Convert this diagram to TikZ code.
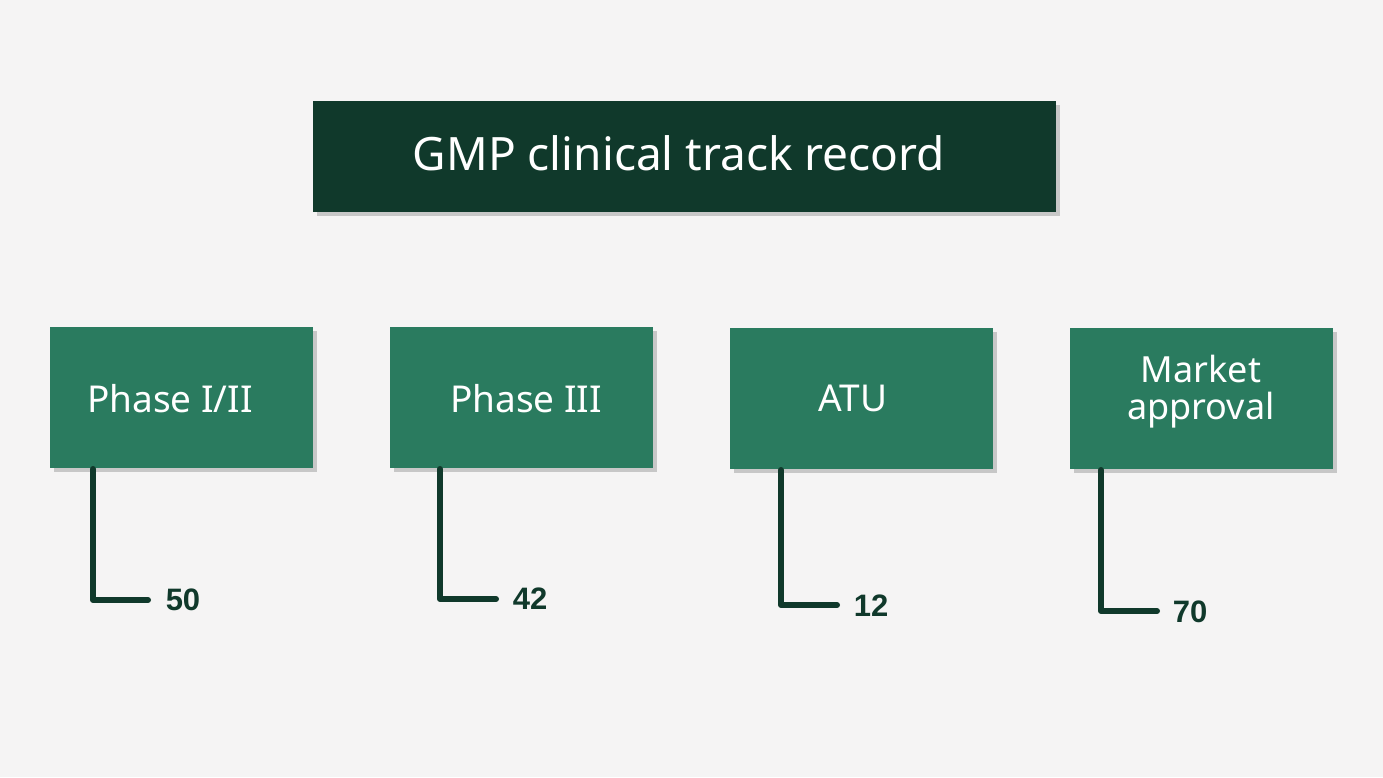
\documentclass[tikz,border=0pt]{standalone}
\usepackage{fontspec}
\setmainfont{Noto Sans}
\newfontfamily\numfont{Liberation Sans}
\begin{document}
\begin{tikzpicture}[x=1pt,y=-1pt,
  shad/.style={fill=black!22,draw=none},
  boxtext/.style={text=white,font=\fontsize{37}{40}\selectfont,inner sep=0pt,align=center},
  lead/.style={draw=titlegreen,line width=6pt,line cap=round,line join=round},
  num/.style={text=titlegreen,font=\numfont\bfseries\fontsize{31}{33}\selectfont,inner sep=0pt}]
\definecolor{bg}{HTML}{F5F4F4}
\definecolor{titlegreen}{HTML}{10392B}
\definecolor{boxgreen}{HTML}{2A7B5F}
\useasboundingbox[fill=bg] (0,0) rectangle (1383,777);
% title
\fill[shad] (317,105) rectangle (1060,216);
\fill[titlegreen] (313,101) rectangle (1056,212);
\node[text=white,font=\fontsize{46}{50}\selectfont] (t) at (679,153) {GMP clinical track record};
% boxes
\foreach \x/\y/\n in {50/327/a,390/327/b,730/328/c,1070/328/d}{
  \fill[shad] (\x+4,\y+4) rectangle (\x+267,\y+145);
  \fill[boxgreen] (\x,\y) rectangle (\x+263,\y+141);
  \coordinate (\n) at (\x,\y);
}
\node[boxtext] (pa) at (170,399) {Phase I/II};
\node[boxtext] (pb) at (526,399) {Phase III};
\node[boxtext] (pc) at (853,398) {ATU};
\node[text=white,font=\fontsize{36}{37}\selectfont,align=center,inner sep=0pt] (pd) at (1201,392) {Market\\approval};
% leaders
\coordinate (la) at (93,469); \coordinate (ea) at (148,600);
\coordinate (lb) at (440,469); \coordinate (eb) at (496,599);
\coordinate (lc) at (781,470); \coordinate (ec) at (837,605);
\coordinate (ld) at (1101,470); \coordinate (ed) at (1157,611);
\draw[lead] (la) |- (ea);
\draw[lead] (lb) |- (eb);
\draw[lead] (lc) |- (ec);
\draw[lead] (ld) |- (ed);
\node[num] (na) at (183,600) {50};
\node[num] (nb) at (530,599) {42};
\node[num] (nc) at (871,606) {12};
\node[num] (nd) at (1190,612) {70};
\end{tikzpicture}
\end{document}
